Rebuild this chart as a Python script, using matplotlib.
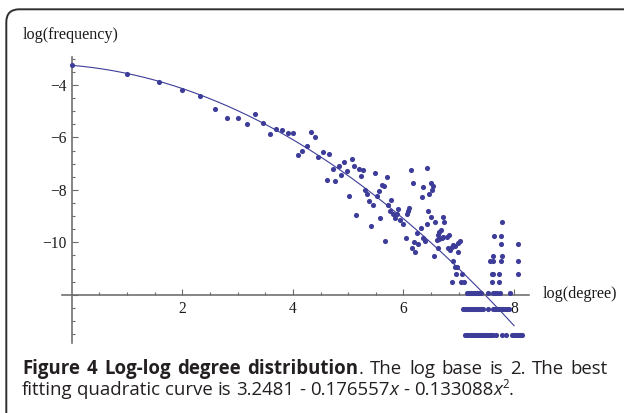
import matplotlib
matplotlib.use("Agg")
import matplotlib.pyplot as plt
import numpy as np
from matplotlib.patches import FancyBboxPatch
from matplotlib.transforms import IdentityTransform

W, H, DPI = 624, 413, 100

# ---- data: log2(degree) vs log2(frequency) ----
head_x = [0.000, 1.000, 1.585, 2.000, 2.322, 2.585, 2.807, 3.000, 3.170, 3.322, 3.459,
          3.585, 3.700, 3.807, 3.907, 4.000, 4.087, 4.170, 4.248, 4.322, 4.392, 4.459]
head_y = [-3.24, -3.57, -3.90, -4.19, -4.41, -4.93, -5.26, -5.25, -5.50, -5.11, -5.46,
          -5.87, -5.67, -5.73, -5.83, -5.82, -6.67, -6.52, -6.34, -5.78, -5.98, -6.76]

body_x = [4.546, 4.662, 4.720, 4.608, 4.770, 4.825, 4.928, 4.879, 4.973, 5.063, 5.109,
          5.192, 5.268, 5.231, 5.481, 5.696, 5.020, 5.309, 5.344, 5.380, 5.445, 5.521,
          5.553, 5.611, 5.647, 5.150, 5.575, 5.416, 5.666, 5.720, 5.783, 5.756, 5.819,
          5.855, 6.130, 6.430, 6.172, 6.347, 6.492, 6.528, 6.510, 6.467, 6.329, 5.906,
          6.105, 6.087, 6.058, 5.877, 6.448, 6.497, 6.720, 5.937, 5.986, 6.040, 6.154,
          6.213, 6.190, 6.268, 6.250, 6.311, 6.358, 6.389, 6.420, 6.570, 6.629, 6.647,
          6.673, 6.600, 6.647, 6.691, 6.720, 6.781, 6.828, 6.738, 6.810, 6.841, 6.872,
          6.901, 6.931, 6.991, 7.022, 6.991, 6.618]
body_y = [-6.54, -6.62, -7.19, -7.62, -7.67, -7.08, -6.92, -7.44, -7.29, -6.83, -7.09,
          -7.22, -7.25, -7.48, -7.35, -7.52, -8.23, -8.01, -8.16, -8.41, -8.59, -8.23,
          -8.05, -7.83, -7.85, -8.96, -9.08, -9.38, -9.96, -8.56, -8.40, -8.79, -8.92,
          -9.08, -7.24, -7.15, -7.75, -7.90, -7.75, -7.85, -8.01, -8.17, -8.27, -8.73,
          -8.68, -8.81, -8.92, -8.93, -8.79, -9.02, -9.05, -9.15, -9.31, -9.85, -10.23,
          -10.38, -9.98, -10.08, -9.66, -9.47, -9.85, -9.95, -9.31, -9.24, -10.23, -9.60,
          -9.53, -9.91, -9.87, -9.82, -9.79, -9.79, -9.72, -9.24, -10.23, -10.29, -10.17,
          -10.10, -10.13, -10.04, -9.95, -10.36, -9.73]

# low-count tail: each level is one count value, listed with the degrees that hit it
tail_levels = [-13.53, -12.53, -11.95, -11.53, -11.21, -10.95, -10.72, -10.53,
               -10.08, -9.75, -9.21]
tail_x = [
    [7.112, 7.148, 7.184, 7.221, 7.257, 7.293, 7.329, 7.365, 7.401, 7.438, 7.474,
     7.510, 7.546, 7.582, 7.618, 7.673, 7.776, 7.853, 7.957, 7.993, 8.029, 8.065,
     8.101, 8.137],
    [7.076, 7.112, 7.148, 7.184, 7.221, 7.257, 7.293, 7.329, 7.365, 7.401, 7.438,
     7.528, 7.618, 7.654, 7.691, 7.727, 7.763, 7.799, 7.835, 7.872, 7.908],
    [7.148, 7.184, 7.221, 7.257, 7.293, 7.329, 7.365, 7.410, 7.528, 7.624, 7.660,
     7.700, 7.745, 7.926],
    [6.872, 7.040, 7.094, 7.595, 7.736],
    [6.949, 7.052, 7.595, 7.624, 7.733, 8.076],
    [6.931, 6.962],
    [6.901, 7.564, 7.613, 7.758, 8.076],
    [6.552, 7.613, 7.787],
    [7.758, 8.076],
    [7.637, 7.758],
    [7.776],
]

# quadratic fit (log base 2)
fit_coef = [3.2481, 0.176557, 0.133088]

x_major = [2, 4, 6, 8]
y_major = [-4, -6, -8, -10]
x_tick_labels = ["2", "4", "6", "8"]
y_tick_labels = ["\u22124", "\u22126", "\u22128", "\u221210"]

POINT = "#3d3d99"
AXIS = "#6a6a6a"
SERIF = ["Liberation Serif", "DejaVu Serif"]
SANS = "Open Sans"

fig = plt.figure(figsize=(W / DPI, H / DPI), dpi=DPI)
fig.patch.set_facecolor("white")

# axes placed so that x=0 / y=-12 cross where the axes origin sits
xlim = (-0.17, 8.27)
ylim = (-13.85, -2.95)
left_px, right_px = 62.3, 529.0
top_px, bottom_px = 57.5, 343.3
ax = fig.add_axes([left_px / W, (H - bottom_px) / H,
                   (right_px - left_px) / W, (bottom_px - top_px) / H])
ax.set_xlim(*xlim)
ax.set_ylim(*ylim)
ax.patch.set_alpha(0)

for s in ("top", "right"):
    ax.spines[s].set_visible(False)
ax.spines["left"].set_position(("data", 0))
ax.spines["bottom"].set_position(("data", -12))
for s in ("left", "bottom"):
    ax.spines[s].set_color(AXIS)
    ax.spines[s].set_linewidth(1.15)

ax.set_xticks(x_major)
ax.set_xticklabels(x_tick_labels)
ax.set_xticks([v for v in np.arange(0.5, 8.01, 0.5) if v not in x_major], minor=True)
ax.set_yticks(y_major + [-12])
ax.set_yticklabels(y_tick_labels + [""])
ax.set_yticks([v for v in np.arange(-13.5, -2.99, 0.5) if v not in y_major + [-12]], minor=True)
ax.tick_params(which="both", direction="in", color=AXIS, width=0.8)
ax.tick_params(which="major", length=4.2)
ax.tick_params(which="minor", length=2.3)
ax.tick_params(axis="y", which="major", pad=3.4)
ax.tick_params(axis="x", which="major", pad=4.2)
for lab in ax.get_xticklabels() + ax.get_yticklabels():
    lab.set_fontfamily(SERIF)
    lab.set_fontsize(11.2)
    lab.set_color("#1a1a1a")

# fitted curve
xs = np.linspace(0, 8, 300)
ys = -fit_coef[0] - fit_coef[1] * xs - fit_coef[2] * xs ** 2
ax.plot(xs, ys, color=POINT, lw=0.8, zorder=2)

# points
all_x = list(head_x) + list(body_x)
all_y = list(head_y) + list(body_y)
for lvl, xs_lvl in zip(tail_levels, tail_x):
    all_x += xs_lvl
    all_y += [lvl] * len(xs_lvl)
ax.plot(all_x, all_y, "o", color=POINT, ms=3.7, mew=0, zorder=3, clip_on=False)

# axis captions
fig.text(22.7 / W, 1 - 39.3 / H, "log(frequency)", family=SERIF, fontsize=11.6,
         va="baseline", ha="left", color="#1a1a1a")
fig.text(543 / W, 1 - 297.7 / H, "log(degree)", family=SERIF, fontsize=11.6,
         va="baseline", ha="left", color="#1a1a1a")

# rounded frame
frame = FancyBboxPatch((6.3, -40), 640, (H - 9.3) + 40,
                       boxstyle="round,pad=0,rounding_size=13",
                       transform=IdentityTransform(), fill=False,
                       ec="#2e2e2e", lw=1.4, clip_on=False)
fig.add_artist(frame)

# figure caption, laid out word by word
fig.canvas.draw()
renderer = fig.canvas.get_renderer()

CAP = 13.4
SPACE = 0.26 * CAP * DPI / 72.0


def draw_line(x_px, base_px, tokens, right_px=None):
    """tokens: (text, style kwargs, space_before)"""
    arts = []
    for text, kw, sp in tokens:
        kw = dict(kw)
        rise = kw.pop("rise", 0)
        t = fig.text(0, 0, text, va="baseline", ha="left", family=SANS,
                     color="#231f20", fontsize=kw.pop("fontsize", CAP), **kw)
        arts.append((t, rise, sp, t.get_window_extent(renderer).width))
    n_sp = sum(1 for a in arts if a[2])
    natural = sum(a[3] for a in arts) + n_sp * SPACE
    extra = 0.0
    if right_px is not None and n_sp:
        extra = (right_px - x_px - natural) / n_sp
    x = x_px
    for t, rise, sp, w in arts:
        if sp:
            x += SPACE + extra
        t.set_position((x / W, 1 - (base_px - rise) / H))
        x += w


B = dict(weight="bold")
R = dict()
I = dict(style="italic")
line1 = [("Figure", B, False), ("4", B, True), ("Log-log", B, True), ("degree", B, True),
         ("distribution", B, True), (".", R, False), ("The", R, True), ("log", R, True),
         ("base", R, True), ("is", R, True), ("2.", R, True), ("The", R, True),
         ("best", R, True)]
line2 = [("fitting", R, False), ("quadratic", R, True), ("curve", R, True), ("is", R, True),
         ("3.2481", R, True), ("-", R, True), ("0.176557", R, True), ("x", I, False),
         ("-", R, True), ("0.133088", R, True), ("x", I, False),
         ("2", dict(fontsize=CAP * 0.62, rise=6.5), False), (".", R, False)]
draw_line(22.0, 374.0, line1, right_px=608.0)
draw_line(22.0, 395.0, line2)

fig.savefig("out.png", dpi=DPI)
